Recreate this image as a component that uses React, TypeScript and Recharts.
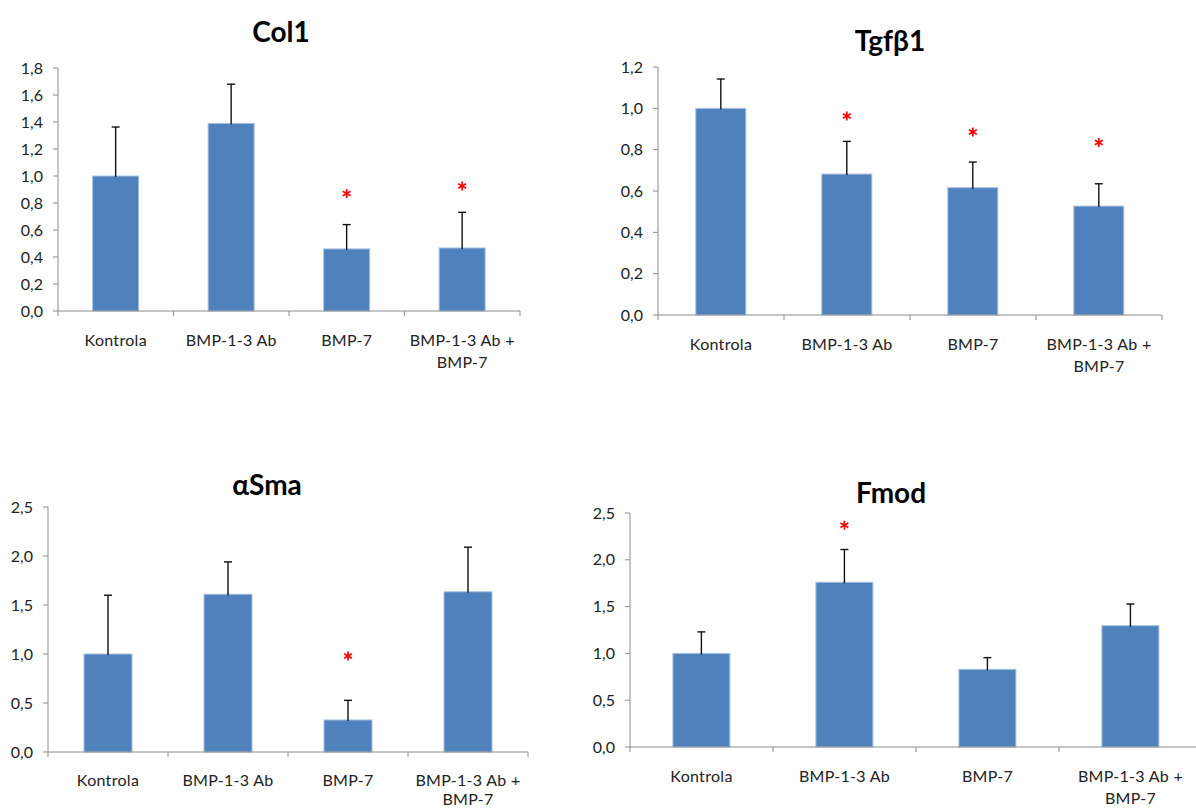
import React from 'react';
import { ComposedChart, Bar, XAxis, YAxis } from 'recharts';

const categories = ['Kontrola', 'BMP-1-3 Ab', 'BMP-7', 'BMP-1-3 Ab + BMP-7'];

const col1Values = [1.0, 1.39, 0.46, 0.467];
const col1Errors = [0.363, 0.29, 0.18, 0.264];
const col1Stars = [null, null, 0.87, 0.926];
const col1Ticks = [0, 0.2, 0.4, 0.6, 0.8, 1.0, 1.2, 1.4, 1.6, 1.8];

const tgfValues = [1.0, 0.682, 0.616, 0.527];
const tgfErrors = [0.142, 0.158, 0.124, 0.108];
const tgfStars = [null, 0.963, 0.885, 0.835];
const tgfTicks = [0, 0.2, 0.4, 0.6, 0.8, 1.0, 1.2];

const smaValues = [1.0, 1.61, 0.327, 1.635];
const smaErrors = [0.6, 0.33, 0.2, 0.455];
const smaStars = [null, null, 0.98, null];
const smaTicks = [0, 0.5, 1.0, 1.5, 2.0, 2.5];

const fmodValues = [1.0, 1.76, 0.83, 1.296];
const fmodErrors = [0.23, 0.35, 0.125, 0.232];
const fmodStars = [null, 2.37, null, null];
const fmodTicks = [0, 0.5, 1.0, 1.5, 2.0, 2.5];

const BAR = '#4f81bd';
const AXIS = '#8c8c8c';
const FONT = 'Lato, "Open Sans", sans-serif';

const fmt = (v: number) => v.toFixed(1).replace('.', ',');

function Asterisk({ cx, cy }: { cx: number; cy: number }) {
  const r = 4.5;
  const d = r * 0.87;
  return (
    <g stroke='#ff0000' strokeWidth={1.7}>
      <line x1={cx} x2={cx} y1={cy - r} y2={cy + r} />
      <line x1={cx - d} x2={cx + d} y1={cy - r / 2} y2={cy + r / 2} />
      <line x1={cx - d} x2={cx + d} y1={cy + r / 2} y2={cy - r / 2} />
    </g>
  );
}

function makeBarShape(values: number[], errors: number[], stars: (number | null)[]) {
  return (props: any) => {
    const { x, y, width, height, payload } = props;
    const i = payload.i;
    const px = height / values[i];
    const cx = x + width / 2;
    const errTop = y - errors[i] * px;
    const base = y + height;
    const star = stars[i];
    return (
      <g>
        <rect x={x} y={y} width={width} height={height} fill={BAR} stroke='#a9c1e1' strokeWidth={1} />
        <line x1={cx} x2={cx} y1={y + 1} y2={errTop} stroke='#111' strokeWidth={1.4} />
        <line x1={cx - 4} x2={cx + 4} y1={errTop} y2={errTop} stroke='#111' strokeWidth={1.4} />
        {star != null && <Asterisk cx={cx} cy={base - star * px} />}
      </g>
    );
  };
}

function makeXTick(band: number, first: number, gap: number) {
  return (props: any) => {
    const { x, y, payload, index } = props;
    const label = String(payload.value);
    const lines = label.includes(' + ')
      ? [label.split(' + ')[0] + ' +', label.split(' + ')[1]]
      : [label];
    return (
      <g>
        <line x1={x - band / 2} x2={x - band / 2} y1={y} y2={y + 5} stroke={AXIS} />
        {index === categories.length - 1 && (
          <line x1={x + band / 2} x2={x + band / 2} y1={y} y2={y + 5} stroke={AXIS} />
        )}
        {lines.map((ln, k) => (
          <text
            key={k}
            x={x}
            y={y + first + k * gap}
            textAnchor='middle'
            fontSize={16}
            letterSpacing={0.3}
            fontFamily={FONT}
            fill='#222'
          >
            {ln}
          </text>
        ))}
      </g>
    );
  };
}

type PanelProps = {
  title: string;
  left: number;
  top: number;
  width: number;
  height: number;
  margin: { top: number; right: number; bottom: number; left: number };
  titleX: number;
  titleY: number;
  values: number[];
  errors: number[];
  stars: (number | null)[];
  ticks: number[];
  xHeight: number;
  labelFirst?: number;
  labelGap?: number;
};

const Y_W = 40;

function Panel(p: PanelProps) {
  const data = categories.map((name, i) => ({ name, i, value: p.values[i] }));
  const plotW = p.width - p.margin.left - p.margin.right - Y_W;
  const band = plotW / categories.length;
  return (
    <>
      <div
        style={{
          position: 'absolute',
          left: p.titleX - 100,
          top: p.titleY - 14,
          width: 200,
          height: 28,
          lineHeight: '28px',
          textAlign: 'center',
          fontFamily: FONT,
          fontWeight: 700,
          fontSize: 28,
          color: '#000',
        }}
      >
        {p.title}
      </div>
      <div style={{ position: 'absolute', left: p.left, top: p.top }}>
        <ComposedChart width={p.width} height={p.height} data={data} margin={p.margin} barCategoryGap='30%'>
          <XAxis
            dataKey='name'
            height={p.xHeight}
            axisLine={{ stroke: AXIS }}
            tickLine={false}
            tickSize={0}
            tickMargin={0}
            interval={0}
            tick={makeXTick(band, p.labelFirst ?? 35, p.labelGap ?? 22)}
          />
          <YAxis
            width={Y_W}
            domain={[0, p.ticks[p.ticks.length - 1]]}
            ticks={p.ticks}
            interval={0}
            tickFormatter={fmt}
            axisLine={{ stroke: AXIS }}
            tickLine={{ stroke: AXIS }}
            tickSize={5}
            tickMargin={10}
            tick={{ fontSize: 16, fontFamily: FONT, fill: '#222' }}
          />
          <Bar
            dataKey='value'
            isAnimationActive={false}
            shape={makeBarShape(p.values, p.errors, p.stars)}
          />
        </ComposedChart>
      </div>
    </>
  );
}

export default function App() {
  return (
    <div
      style={{
        position: 'absolute',
        left: 0,
        top: 0,
        width: 1196,
        height: 810,
        background: '#fff',
        overflow: 'hidden',
      }}
    >
      <Panel
        title='Col1'
        left={0}
        top={0}
        width={540}
        height={390}
        margin={{ top: 68, right: 20, bottom: 19, left: 18 }}
        xHeight={60}
        titleX={281}
        titleY={31}
        values={col1Values}
        errors={col1Errors}
        stars={col1Stars}
        ticks={col1Ticks}
      />
      <Panel
        title='Tgfβ1'
        left={600}
        top={0}
        width={596}
        height={400}
        margin={{ top: 67, right: 34, bottom: 25, left: 18 }}
        xHeight={60}
        titleX={890}
        titleY={40}
        values={tgfValues}
        errors={tgfErrors}
        stars={tgfStars}
        ticks={tgfTicks}
      />
      <Panel
        title='αSma'
        left={0}
        top={440}
        width={560}
        height={370}
        margin={{ top: 67, right: 32, bottom: 2, left: 8 }}
        xHeight={56}
        titleX={267}
        titleY={484}
        values={smaValues}
        errors={smaErrors}
        stars={smaStars}
        ticks={smaTicks}
        labelFirst={34}
        labelGap={19}
      />
      <Panel
        title='Fmod'
        left={580}
        top={440}
        width={630}
        height={370}
        margin={{ top: 73, right: 8, bottom: 3, left: 10 }}
        xHeight={60}
        titleX={891}
        titleY={492}
        values={fmodValues}
        errors={fmodErrors}
        stars={fmodStars}
        ticks={fmodTicks}
      />
    </div>
  );
}
